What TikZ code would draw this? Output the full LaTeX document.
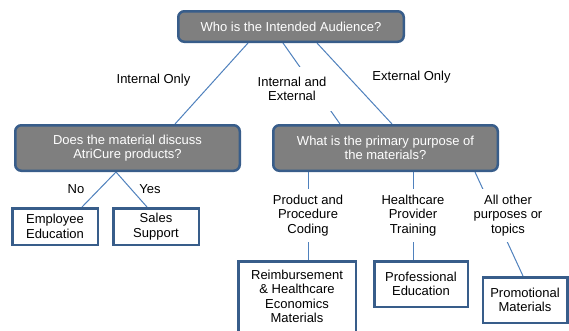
\documentclass[tikz,border=0pt]{standalone}
\usepackage{fontspec}
\setmainfont{Liberation Sans}
\usetikzlibrary{backgrounds,calc}
\definecolor{gfill}{HTML}{7F7F7F}
\definecolor{bord}{HTML}{385D8A}
\definecolor{conncol}{HTML}{4F81BD}
\tikzset{
  txt/.style={font=\fontsize{13}{14.5}\selectfont},
  qbox/.style={txt, draw=bord, line width=2.5pt, fill=gfill, rounded corners=6pt, text=white, align=center, inner sep=0pt},
  abox/.style={txt, draw=bord, line width=2.5pt, fill=white, align=center, inner sep=0pt},
  lbl/.style={txt, align=center, inner sep=0pt},
  wlbl/.style={lbl, fill=white},
  conn/.style={draw=conncol, line width=1pt}
}
\begin{document}
\begin{tikzpicture}[x=1pt,y=-1pt]
\clip (0,0) rectangle (569,330);
% question boxes
\node[qbox, minimum width=225.5pt, minimum height=30.5pt] (top) at (291,26.5) {Who is the Intended Audience?};
\node[qbox, minimum width=224.5pt, minimum height=45.5pt] (lg) at (127.5,148) {Does the material discuss\\AtriCure products?};
\node[qbox, minimum width=224.5pt, minimum height=45.5pt] (rg) at (385.5,148) {What is the primary purpose of\\the materials?};
% answer boxes
\node[abox, minimum width=85.5pt, minimum height=36.5pt] (emp) at (55,226.5) {Employee\\Education};
\node[abox, minimum width=85.5pt, minimum height=36.5pt] (sales) at (156,226.5) {Sales\\Support};
\node[abox, minimum width=117.5pt, minimum height=70.5pt] (reimb) at (297,296.5) {Reimbursement\\\& Healthcare\\Economics\\Materials};
\node[abox, minimum width=93.5pt, minimum height=45.5pt] (prof) at (421,284) {Professional\\Education};
\node[abox, minimum width=84.5pt, minimum height=45.5pt] (promo) at (525,300) {Promotional\\Materials};
% labels
\node[lbl] (intonly) at (153.5,80) {Internal Only};
\node[wlbl, minimum width=80pt, minimum height=44pt] (intext) at (292,89) {Internal and\\External};
\node[lbl] (extonly) at (411.5,77.5) {External Only};
\node[lbl] (no) at (76,189) {No};
\node[lbl] (yes) at (150,189) {Yes};
\node[lbl, minimum height=53pt] (pc) at (308,215.5) {Product and\\Procedure\\Coding};
\node[lbl, minimum height=53pt] (hp) at (413,215.5) {Healthcare\\Provider\\Training};
\node[wlbl, minimum width=72pt, minimum height=53pt] (ao) at (508,215.5) {All other\\purposes or\\topics};
% connectors
\begin{pgfonlayer}{background}
\fill[white] (0,0) rectangle (569,330);
\draw[conn] ([xshift=-43pt]top.south) -- ([xshift=47.5pt]lg.north);
\draw[conn] ([xshift=-8pt]top.south) -- ([xshift=-45.5pt]rg.north);
\draw[conn] ([xshift=26pt]top.south) -- ([xshift=6.5pt]rg.north);
\draw[conn] ([xshift=-11.5pt]lg.south) -- ([xshift=27pt]emp.north);
\draw[conn] ([xshift=-11.5pt]lg.south) -- ([xshift=-9pt]sales.north);
\draw[conn] (rg.south -| pc.north) -- (pc.north);
\draw[conn] (pc.south) -- (reimb.north -| pc.south);
\draw[conn] (rg.south -| hp.north) -- (hp.north);
\draw[conn] (hp.south) -- (prof.north -| hp.south);
\draw[conn] ([xshift=-24pt]rg.south east) -- ([xshift=-2pt]promo.north);
\end{pgfonlayer}
\end{tikzpicture}
\end{document}
